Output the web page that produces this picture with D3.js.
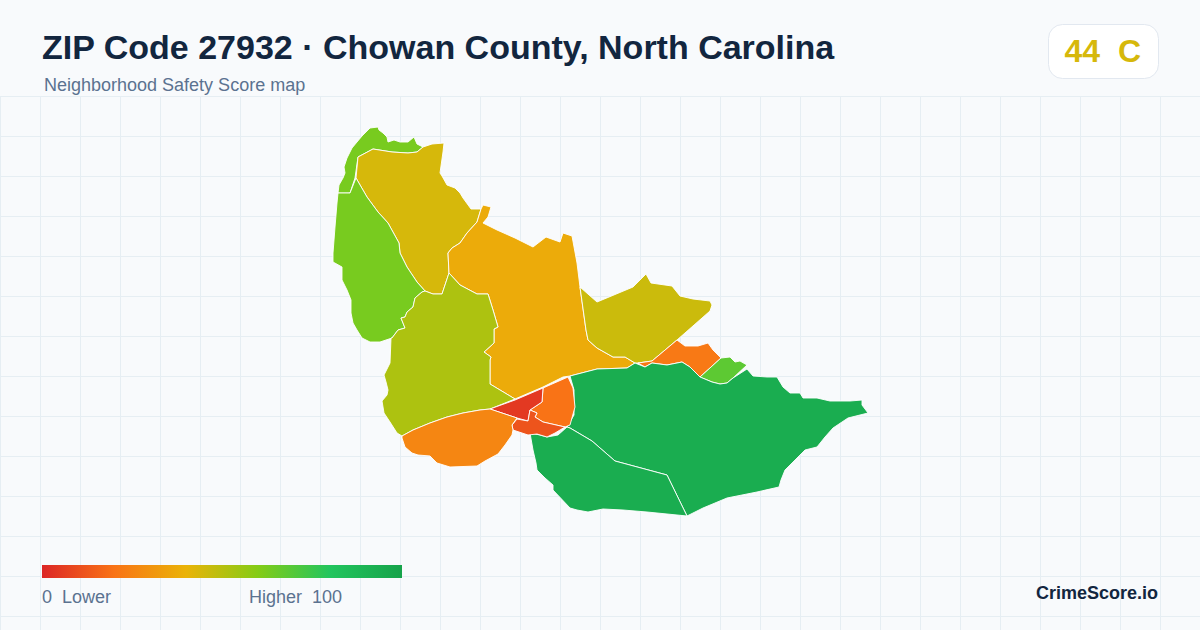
<!DOCTYPE html>
<html><head><meta charset="utf-8">
<style>html,body{margin:0;padding:0;background:#f8fafc;overflow:hidden}svg{display:block}text{font-family:"Liberation Sans",Arial,sans-serif;white-space:pre}</style>
<script src="https://cdn.jsdelivr.net/npm/d3@7/dist/d3.min.js"></script>
</head><body><svg id="c" width="1200" height="630"></svg>
<script>
const titleText = "ZIP Code 27932 · Chowan County, North Carolina";
const subtitleText = "Neighborhood Safety Score map";
const overallScore = 44, overallGrade = "C";
const scaleStops = [0, 20, 40, 60, 80, 100];
const scaleColors = ["#dc2626", "#f97316", "#eab308", "#84cc16", "#22c55e", "#16a34a"];

const tractScores = [62.5, 44, 62.5, 37.5, 52, 46, 22, 68, 94, 94, 20, 5, 12, 26];
// Tract outlines in map units
const tractRings = [
 [[338,193],[339,185],[343,178],[345,173],[344,167],[347,158],[352,148],[357,142],[362,136],[370,128],[378,127],[379,130],[383,133],[387,137],[388,142],[394,140],[400,142],[408,142],[414,137],[417,144],[423,147],[417,152],[408,153],[392,152],[373,149],[358,157],[355,178],[350,193]],
 [[358,157],[373,149],[392,152],[408,153],[417,152],[423,147],[432,144],[444,143],[443,152],[440,173],[442,176],[447,185],[455,188],[460,193],[463,198],[471,209],[481,209],[477,222],[467,233],[460,243],[452,248],[448,253],[449,273],[442,294],[433,294],[425,291],[417,282],[407,267],[400,253],[399,243],[388,223],[378,212],[367,197],[356,178]],
 [[338,193],[350,193],[356,178],[367,197],[378,212],[388,223],[399,243],[400,253],[407,267],[417,282],[425,291],[422,292],[415,298],[413,307],[407,312],[405,317],[401,318],[405,328],[398,330],[392,338],[380,342],[370,342],[362,338],[357,330],[353,323],[351,313],[351,300],[347,290],[342,280],[342,267],[333,262],[333,253],[335,227],[337,203]],
 [[481,209],[483,205],[491,207],[488,217],[483,223],[497,230],[515,238],[533,247],[546,237],[560,242],[563,233],[572,236],[577,263],[580,287],[586,330],[588,340],[597,348],[613,357],[625,357],[635,363],[627,368],[597,369],[570,376],[563,377],[543,387],[515,399],[490,384],[490,360],[491,357],[484,352],[494,343],[494,329],[498,327],[493,310],[488,294],[477,294],[460,285],[449,273],[448,253],[452,248],[460,243],[467,233],[477,222]],
 [[449,273],[460,285],[477,294],[488,294],[493,310],[498,327],[494,329],[494,343],[484,352],[491,357],[490,360],[490,384],[515,399],[490,409],[480,410],[463,413],[447,417],[430,423],[413,430],[402,436],[397,433],[390,422],[384,413],[382,401],[387,395],[388,390],[386,382],[384,375],[390,363],[391,338],[392,338],[398,330],[405,328],[401,318],[405,317],[407,312],[413,307],[415,298],[422,292],[425,291],[433,294],[442,294]],
 [[580,287],[597,302],[633,287],[642,278],[646,274],[651,283],[672,286],[680,296],[693,299],[710,301],[712,305],[710,311],[677,340],[652,361],[638,363],[635,363],[625,357],[613,357],[597,348],[588,340],[586,330]],
 [[677,340],[685,346],[698,346],[708,343],[713,350],[721,358],[700,377],[690,367],[682,362],[667,365],[652,363],[645,367],[638,363],[652,361]],
 [[721,358],[730,357],[735,362],[740,361],[747,365],[733,378],[727,383],[720,384],[712,382],[700,377]],
 [[570,376],[597,369],[627,368],[635,363],[645,367],[652,363],[667,365],[682,362],[690,367],[700,377],[712,382],[720,384],[727,383],[733,378],[747,369],[753,376],[767,377],[777,377],[783,387],[790,393],[800,393],[803,398],[817,398],[830,401],[850,401],[862,400],[862,405],[868,413],[848,418],[833,428],[825,437],[817,447],[805,450],[792,463],[785,470],[781,480],[779,487],[757,492],[727,498],[703,508],[687,516],[667,475],[615,461],[592,441],[570,428],[567,427],[574,415],[574,390]],
 [[570,428],[592,441],[615,461],[667,475],[687,516],[667,514],[647,512],[623,510],[603,509],[588,512],[577,510],[570,508],[553,490],[553,485],[545,478],[537,470],[536,463],[533,450],[530,433],[540,435],[547,437],[558,435],[567,427]],
 [[543,388],[568,377],[573,388],[575,407],[570,425],[565,427],[543,422],[535,417],[537,413],[530,410],[542,402]],
 [[490,409],[515,400],[543,388],[542,402],[530,410],[528,421],[517,418]],
 [[517,419],[528,421],[530,410],[537,413],[535,417],[543,422],[565,427],[555,433],[547,437],[537,434],[528,435],[513,430],[512,425]],
 [[402,436],[413,430],[430,423],[447,417],[463,413],[480,410],[490,409],[517,418],[512,425],[513,430],[512,435],[505,445],[498,454],[485,461],[477,466],[450,467],[437,463],[430,456],[418,455],[412,453],[405,447],[402,438]]
];

const W = 1200, H = 630;
const svg = d3.select("#c");
svg.append("rect").attr("width",W).attr("height",H).attr("fill","#f8fafc");

const color = d3.scaleLinear().domain(scaleStops).range(scaleColors).clamp(true);

// Grid
const gridX = d3.range(0, W, 40), gridY = d3.range(97, H, 40);
const grid = svg.append("g").attr("stroke","#e6eef3").attr("stroke-width",1).attr("shape-rendering","crispEdges");
grid.selectAll("line.v").data(gridX).join("line").attr("class","v").attr("x1",d=>d+.5).attr("x2",d=>d+.5).attr("y1",97).attr("y2",H);
grid.selectAll("line.h").data(gridY).join("line").attr("class","h").attr("x1",0).attr("x2",W).attr("y1",d=>d-.5).attr("y2",d=>d-.5);

// Map
const x = d3.scaleLinear().domain([333,868]).range([333,868]);
const y = d3.scaleLinear().domain([127,516]).range([127,516]);
const line = d3.line().x(d=>x(d[0])).y(d=>y(d[1])).curve(d3.curveLinearClosed);
svg.append("g").selectAll("path").data(tractRings).join("path")
  .attr("d",line)
  .attr("fill",(d,i)=>color(tractScores[i]))
  .attr("stroke","#ffffff").attr("stroke-width",0.9).attr("stroke-linejoin","round");

// Header
svg.append("text").attr("x",42).attr("y",59).attr("font-size",34).attr("font-weight",700).attr("fill","#12263f").text(titleText);
svg.append("text").attr("x",44).attr("y",91).attr("font-size",18).attr("fill","#5b7290").text(subtitleText);

// Score badge
svg.append("rect").attr("x",1048.5).attr("y",24.5).attr("width",110).attr("height",54).attr("rx",14)
  .attr("fill","#ffffff").attr("stroke","#e2e8f0");
svg.append("text").attr("x",1064.5).attr("y",62).attr("font-size",32).attr("font-weight",700).attr("fill",color(overallScore)).text(overallScore + "  " + overallGrade);

// Legend
const defs = svg.append("defs");
const lg = defs.append("linearGradient").attr("id","lg").attr("x1","0").attr("x2","1").attr("y1","0").attr("y2","0");
lg.selectAll("stop").data(scaleStops).join("stop").attr("offset",d=>d+"%").attr("stop-color",d=>color(d));
svg.append("rect").attr("x",42).attr("y",565).attr("width",360).attr("height",13).attr("fill","url(#lg)");
const lt = svg.append("g").attr("font-size",18).attr("fill","#5b7290");
lt.append("text").attr("x",42).attr("y",603).text("0  Lower");
lt.append("text").attr("x",249).attr("y",603).text("Higher  100");

svg.append("text").attr("x",1158).attr("y",599).attr("text-anchor","end").attr("font-size",18).attr("font-weight",700).attr("fill","#12263f").text("CrimeScore.io");
</script></body></html>
